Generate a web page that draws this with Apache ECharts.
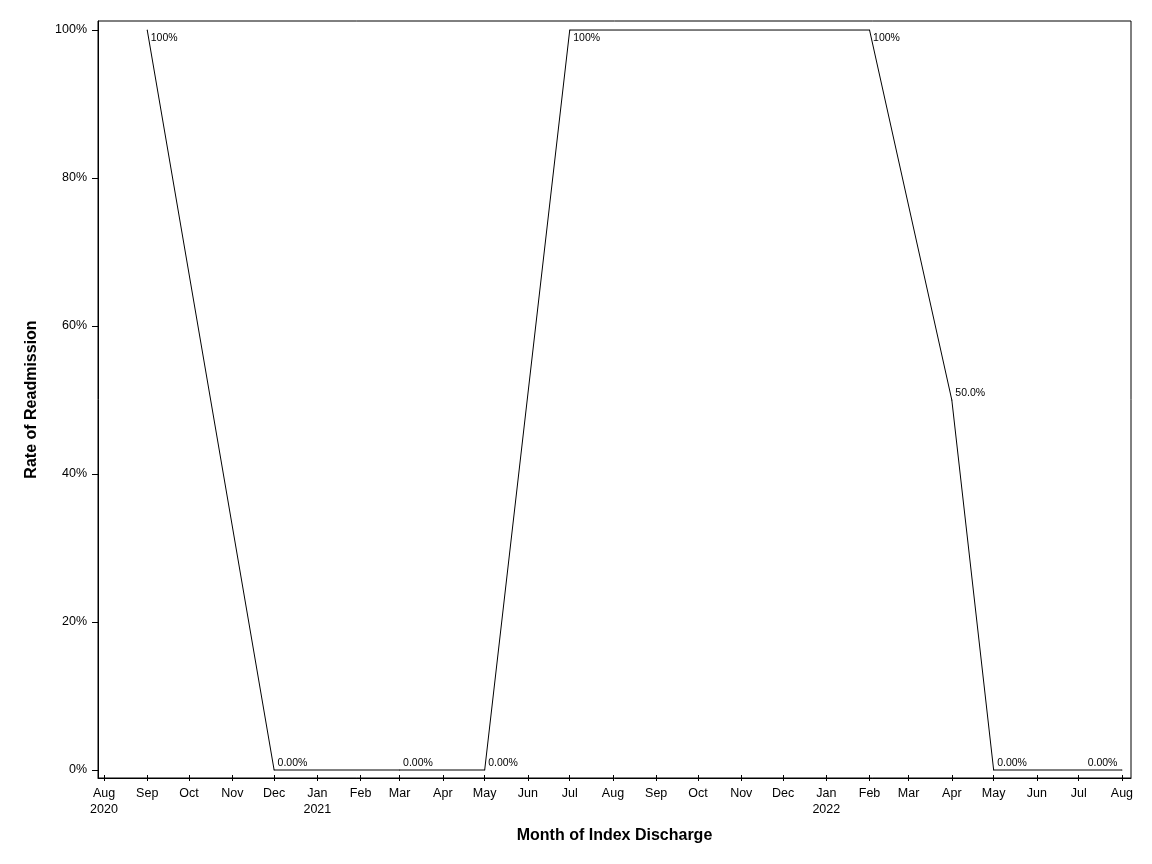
<!DOCTYPE html>
<html>
<head>
<meta charset="utf-8">
<script src="https://cdn.jsdelivr.net/npm/echarts@6/dist/echarts.min.js"></script>
<style>
html,body{margin:0;padding:0;background:#fff;}
#chart{width:1152px;height:864px;}
</style>
</head>
<body>
<div id="chart"></div>
<script>
// ---- data ----
var pointMonths = ['2020-09','2020-12','2021-03','2021-05','2021-07','2022-02','2022-04','2022-05','2022-08'];
var rates = [100, 0, 0, 0, 100, 100, 50, 0, 0];
var pointLabels = ['100%','0.00%','0.00%','0.00%','100%','100%','50.0%','0.00%','0.00%'];
var tickMonthNames = ['Jan','Feb','Mar','Apr','May','Jun','Jul','Aug','Sep','Oct','Nov','Dec'];
var tickStart = '2020-08';
var tickEnd = '2022-08';
var yTicks = [0, 20, 40, 60, 80, 100];

function toTime(ym){ var p = ym.split('-'); return new Date(+p[0], +p[1]-1, 1).getTime(); }

var xTicks = [];
(function(){
  var s = tickStart.split('-'), e = tickEnd.split('-');
  var y = +s[0], m = +s[1]-1;
  while (y < +e[0] || (y === +e[0] && m <= +e[1]-1)) {
    xTicks.push(new Date(y, m, 1).getTime());
    m++; if (m > 11) { m = 0; y++; }
  }
})();
var firstTick = xTicks[0];
var xMin = firstTick - 4.3*86400000;
var xMax = xTicks[xTicks.length-1] + 6.5*86400000;

var font = 'Liberation Sans, Arial, sans-serif';

var seriesData = pointMonths.map(function(ym, i){
  var isLast = i === pointMonths.length - 1;
  var high = rates[i] >= 100;
  return {
    value: [toTime(ym), rates[i]],
    label: {
      show: true,
      formatter: pointLabels[i],
      position: isLast ? [-4, -12] : [4, high ? 3 : -12],
      align: isLast ? 'right' : 'left',
      verticalAlign: 'top',
      color: '#000', fontFamily: font, fontSize: 10.5
    }
  };
});

var chart = echarts.init(document.getElementById('chart'), null, {renderer:'canvas'});
chart.setOption({
  backgroundColor: '#fff',
  animation: false,
  grid: {left: 98, right: 21, top: 21, bottom: 86, show: true, borderColor: '#000', borderWidth: 1, backgroundColor: 'transparent'},
  xAxis: [{
    type: 'value',
    min: xMin, max: xMax,
    name: 'Month of Index Discharge',
    nameLocation: 'middle',
    nameGap: 50,
    nameTextStyle: {fontFamily: font, fontSize: 16, fontWeight: 'bold', color: '#000'},
    axisLine: {show: true, onZero: false, lineStyle: {color: '#000', width: 1}},
    axisTick: {show: true, length: 3, inside: false, customValues: xTicks, lineStyle: {color: '#000'}},
    splitLine: {show: false},
    axisLabel: {
      customValues: xTicks,
      hideOverlap: false,
      showMinLabel: true, showMaxLabel: true,
      margin: 8,
      color: '#000', fontFamily: font, fontSize: 12.5, lineHeight: 16,
      formatter: function(v){
        var d = new Date(v);
        var s = tickMonthNames[d.getMonth()];
        if (v === firstTick || d.getMonth() === 0) s += '\n' + d.getFullYear();
        return s;
      }
    }
  }, {
    type: 'value',
    min: xMin, max: xMax,
    position: 'bottom',
    axisLine: {show: false, onZero: false},
    axisTick: {show: true, length: 3, inside: true, customValues: xTicks, lineStyle: {color: '#000'}},
    axisLabel: {show: false, customValues: xTicks},
    splitLine: {show: false}
  }],
  yAxis: {
    type: 'value',
    min: -1.08, max: 101.22,
    name: 'Rate of Readmission',
    nameLocation: 'middle',
    nameGap: 58,
    nameTextStyle: {fontFamily: font, fontSize: 16, fontWeight: 'bold', color: '#000'},
    axisLine: {show: true, onZero: false, lineStyle: {color: '#000', width: 1}},
    axisTick: {show: true, length: 6, customValues: yTicks, lineStyle: {color: '#000'}},
    splitLine: {show: false},
    axisLabel: {
      customValues: yTicks,
      margin: 11,
      padding: [4, 0, 0, 0],
      color: '#000', fontFamily: font, fontSize: 12.5,
      formatter: function(v){ return v + '%'; }
    }
  },
  series: [{
    type: 'line',
    xAxisIndex: 0,
    data: seriesData,
    showSymbol: true,
    showAllSymbol: true,
    symbol: 'circle',
    symbolSize: 1,
    itemStyle: {color: '#000', borderWidth: 0},
    lineStyle: {color: '#000', width: 1},
    label: {show: true, color: '#000', fontFamily: font, fontSize: 10.5},
    labelLayout: {hideOverlap: false}
  }]
});
</script>
</body>
</html>
